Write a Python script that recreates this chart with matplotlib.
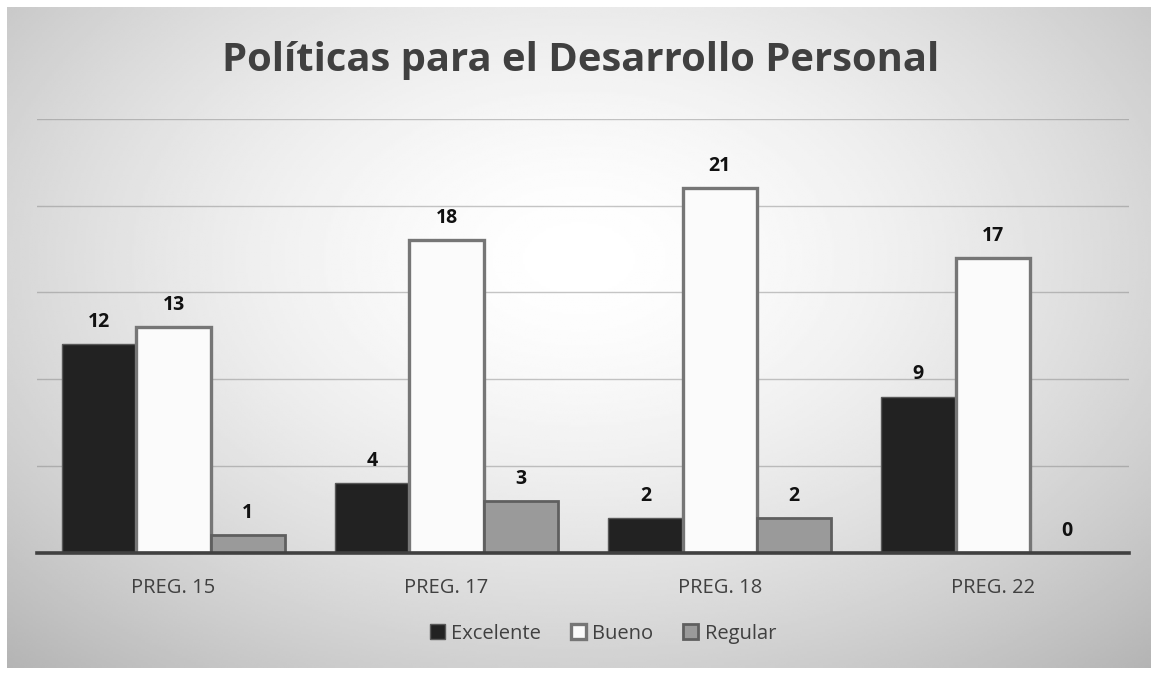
import numpy as np
import matplotlib
matplotlib.use("Agg")
import matplotlib.pyplot as plt

# ---------------------------------------------------------------- DATA -----
categories = ["PREG. 15", "PREG. 17", "PREG. 18", "PREG. 22"]
excelente = [12, 4, 2, 9]
bueno = [13, 18, 21, 17]
regular = [1, 3, 2, 0]
series_names = ["Excelente", "Bueno", "Regular"]

FONT = ["Open Sans", "DejaVu Sans"]
plt.rcParams["font.family"] = FONT

fig = plt.figure(figsize=(11.57, 6.75), dpi=100)

# radial grey background panel
bg = fig.add_axes([0.006, 0.011, 0.988, 0.979])
yy, xx = np.mgrid[0:1:300j, 0:1:500j]
r = np.sqrt(((xx - 0.5) / 0.75) ** 2 + ((yy - 0.62) / 0.85) ** 2)
shade = 1.0 - 0.30 * np.clip(r, 0, 1) ** 1.6
bg.imshow(shade, cmap="gray", vmin=0, vmax=1, aspect="auto", extent=[0, 1, 0, 1],
          origin="lower")
bg.set_axis_off()

# plot area
ax = fig.add_axes([0.032, 0.181, 0.944, 0.643])
ax.patch.set_alpha(0)
x = np.arange(len(categories))
w = 0.272
styles = [
    dict(color="#222222", edgecolor="#595959", linewidth=1.0),
    dict(color="#fbfbfb", edgecolor="#767676", linewidth=2.4),
    dict(color="#9a9a9a", edgecolor="#5f5f5f", linewidth=2.0),
]
handles = []
for i, (vals, st, name) in enumerate(zip([excelente, bueno, regular], styles, series_names)):
    b = ax.bar(x + (i - 1) * w, vals, w, label=name, zorder=3, **st)
    handles.append(b)
    for xi, v in zip(x + (i - 1) * w, vals):
        ax.text(xi, v + 0.7, str(v), ha="center", va="bottom", fontsize=14,
                fontweight="bold", color="#111111", zorder=4)

ax.set_xlim(-0.5, len(categories) - 0.5)
ax.set_ylim(0, 25)
ax.set_yticks([5, 10, 15, 20, 25])
ax.yaxis.grid(True, color="#808080", alpha=0.45, linewidth=1.0, zorder=1)
ax.tick_params(axis="y", left=False, labelleft=False)
ax.set_xticks(x)
ax.set_xticklabels(categories, fontsize=14.5, color="#404040")
ax.tick_params(axis="x", length=0, pad=18)
for s in ["top", "right", "left"]:
    ax.spines[s].set_visible(False)
ax.spines["bottom"].set_color("#404040")
ax.spines["bottom"].set_linewidth(2.6)
ax.spines["bottom"].set_zorder(5)

fig.text(0.502, 0.911, "Políticas para el Desarrollo Personal", ha="center", va="center",
         fontsize=28.8, fontweight="bold", color="#404040")

fig.legend(handles=handles, labels=series_names, loc="center", bbox_to_anchor=(0.521, 0.061),
           ncol=3, frameon=False, fontsize=14.5, handlelength=0.75, handleheight=0.75,
           handletextpad=0.3, columnspacing=1.5, labelcolor="#404040")

fig.savefig("out.png", dpi=100)
